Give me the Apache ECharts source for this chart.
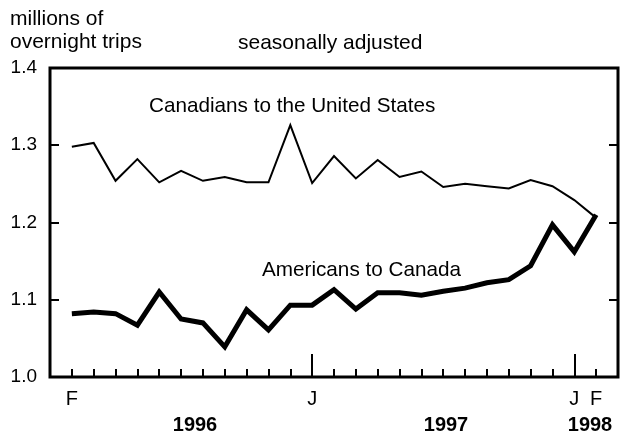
<!DOCTYPE html>
<html>
<head>
<meta charset="utf-8">
<script src="https://cdn.jsdelivr.net/npm/echarts@6/dist/echarts.min.js"></script>
<style>
html,body{margin:0;padding:0;background:#fff;}
#chart{width:627px;height:446px;}
</style>
</head>
<body>
<div id="chart"></div>
<script>
// Months Feb 1996 .. Feb 1998
var months = ['F96','M96','A96','M96b','J96','J96b','A96b','S96','O96','N96','D96','J97','F97','M97','A97','M97b','J97b','J97c','A97b','S97','O97','N97','D97','J98','F98'];
var monthLetters = ['F','M','A','M','J','J','A','S','O','N','D','J','F','M','A','M','J','J','A','S','O','N','D','J','F'];
var labeledMonths = [0, 11, 23, 24];
var longTickMonths = [11, 23];
var canadiansToUS = [1.298, 1.303, 1.254, 1.282, 1.252, 1.267, 1.254, 1.259, 1.252, 1.252, 1.326, 1.251, 1.286, 1.257, 1.281, 1.259, 1.266, 1.246, 1.250, 1.247, 1.244, 1.255, 1.247, 1.229, 1.206];
var americansToCanada = [1.082, 1.084, 1.082, 1.067, 1.110, 1.075, 1.070, 1.039, 1.087, 1.061, 1.093, 1.093, 1.113, 1.088, 1.109, 1.109, 1.106, 1.111, 1.115, 1.122, 1.126, 1.144, 1.197, 1.162, 1.210];
var yTicks = [1.0, 1.1, 1.2, 1.3, 1.4];
var yearLabels = ['1996', '1997', '1998'];

var FONT = '"Liberation Sans", Arial, Helvetica, sans-serif';
// padded categories: one empty slot on each side
var cats = [''].concat(months).concat(['']);
function pad(a){ return [null].concat(a).concat([null]); }

var chart = echarts.init(document.getElementById('chart'), null, {renderer:'canvas'});
var option = {
  animation: false,
  backgroundColor: '#fff',
  grid: {left: 50, right: 9, top: 68, bottom: 69, show: true, borderColor: '#000', borderWidth: 3, backgroundColor: 'transparent'},
  xAxis: [{
    type: 'category', data: cats, boundaryGap: false,
    axisLine: {show: false},
    axisTick: {show: true, inside: true, length: 8, lineStyle: {color: '#000', width: 2},
      interval: function(i){ return i >= 1 && i <= months.length; }},
    axisLabel: {show: true, margin: 12, color: '#000', fontFamily: FONT, fontSize: 20,
      interval: function(i){ return labeledMonths.indexOf(i - 1) >= 0; },
      formatter: function(v, i){ return monthLetters[i - 1] || ''; }},
    splitLine: {show: false}
  }, {
    type: 'category', data: cats, boundaryGap: false, position: 'bottom',
    axisLine: {show: false},
    axisTick: {show: true, inside: true, length: 23, lineStyle: {color: '#000', width: 2},
      interval: function(i){ return longTickMonths.indexOf(i - 1) >= 0; }},
    axisLabel: {show: false},
    splitLine: {show: false}
  }],
  yAxis: [{
    type: 'value', min: 1.0, max: 1.4, interval: 0.1, position: 'left',
    axisLine: {show: false},
    axisTick: {show: true, inside: true, length: 9, lineStyle: {color: '#000', width: 2}},
    axisLabel: {margin: 13, color: '#000', fontFamily: FONT, fontSize: 19,
      formatter: function(v){ return v.toFixed(1); }},
    splitLine: {show: false}
  }, {
    type: 'value', min: 1.0, max: 1.4, interval: 0.1, position: 'right',
    axisLine: {show: false},
    axisTick: {show: true, inside: true, length: 9, lineStyle: {color: '#000', width: 2}},
    axisLabel: {show: false},
    splitLine: {show: false}
  }],
  series: [{
    name: 'Canadians to the United States', type: 'line', data: pad(canadiansToUS),
    xAxisIndex: 0, yAxisIndex: 0, showSymbol: false, symbol: 'none', connectNulls: false,
    lineStyle: {color: '#000', width: 2, join: 'miter'}
  }, {
    name: 'Americans to Canada', type: 'line', data: pad(americansToCanada),
    xAxisIndex: 0, yAxisIndex: 0, showSymbol: false, symbol: 'none', connectNulls: false,
    lineStyle: {color: '#000', width: 5, join: 'miter'}
  }],
  graphic: [
    {type: 'text', x: 10, y: 19, style: {text: 'millions of', font: '21px ' + FONT, fill: '#000', textAlign: 'left', textVerticalAlign: 'middle', align: 'left', verticalAlign: 'middle'}},
    {type: 'text', x: 10, y: 42, style: {text: 'overnight trips', font: '21px ' + FONT, fill: '#000', textAlign: 'left', textVerticalAlign: 'middle', align: 'left', verticalAlign: 'middle'}},
    {type: 'text', x: 238, y: 43, style: {text: 'seasonally adjusted', font: '21px ' + FONT, fill: '#000', textAlign: 'left', textVerticalAlign: 'middle', align: 'left', verticalAlign: 'middle'}},
    {type: 'text', x: 149, y: 106, style: {text: 'Canadians to the United States', font: '20.7px ' + FONT, fill: '#000', textAlign: 'left', textVerticalAlign: 'middle', align: 'left', verticalAlign: 'middle'}},
    {type: 'text', x: 262, y: 270, style: {text: 'Americans to Canada', font: '20.7px ' + FONT, fill: '#000', textAlign: 'left', textVerticalAlign: 'middle', align: 'left', verticalAlign: 'middle'}},
    {type: 'text', x: 195, y: 425, style: {text: yearLabels[0], font: 'bold 20px ' + FONT, fill: '#000', textAlign: 'center', textVerticalAlign: 'middle', align: 'center', verticalAlign: 'middle'}},
    {type: 'text', x: 446, y: 425, style: {text: yearLabels[1], font: 'bold 20px ' + FONT, fill: '#000', textAlign: 'center', textVerticalAlign: 'middle', align: 'center', verticalAlign: 'middle'}},
    {type: 'text', x: 590, y: 425, style: {text: yearLabels[2], font: 'bold 20px ' + FONT, fill: '#000', textAlign: 'center', textVerticalAlign: 'middle', align: 'center', verticalAlign: 'middle'}}
  ]
};
chart.setOption(option);
</script>
</body>
</html>
